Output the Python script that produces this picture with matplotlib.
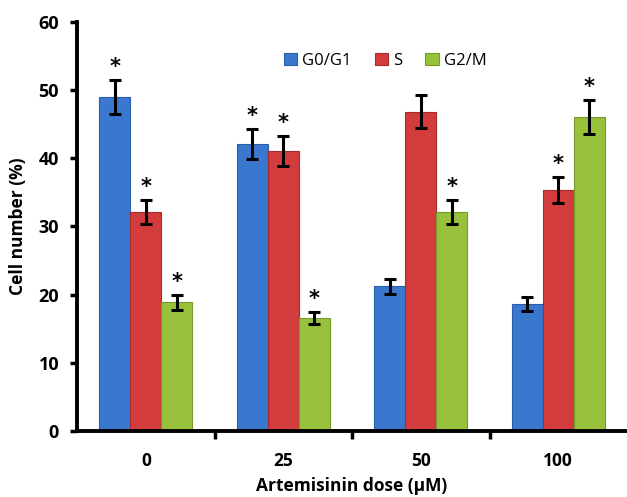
import numpy as np
import matplotlib
matplotlib.use("Agg")
from matplotlib import pyplot as plt

doses = ["0", "25", "50", "100"]
phases = ["G0/G1", "S", "G2/M"]
g0g1 = [49.0, 42.1, 21.2, 18.6]
s_phase = [32.1, 41.1, 46.8, 35.4]
g2m = [18.9, 16.6, 32.1, 46.1]
err_g0g1 = [2.5, 2.2, 1.1, 1.0]
err_s = [1.8, 2.2, 2.4, 1.9]
err_g2m = [1.1, 0.9, 1.8, 2.5]
# significant difference marks (True = star above the bar)
star_g0g1 = [True, True, False, False]
star_s = [True, True, False, True]
star_g2m = [True, True, True, True]

colors = ["#3a78cf", "#d23c3c", "#98c23c"]
edges = ["#2a5ea8", "#a82a2a", "#769a2a"]

plt.rcParams['font.family'] = ['Open Sans', 'DejaVu Sans']

fig = plt.figure(figsize=(6.27, 4.97), dpi=100)
ax = fig.add_axes([0.123, 0.133, 0.877, 0.823])

x = np.arange(len(doses))
w = 0.225
series = [g0g1, s_phase, g2m]
errs = [err_g0g1, err_s, err_g2m]
stars = [star_g0g1, star_s, star_g2m]

for i in range(3):
    pos = x + (i - 1) * w
    ax.bar(pos, series[i], w, color=colors[i], edgecolor=edges[i], linewidth=0.8,
           label=phases[i], zorder=2)
    ax.errorbar(pos, series[i], yerr=errs[i], fmt='none', ecolor='black',
                elinewidth=2.2, capsize=4, capthick=2.2, zorder=3)
    for k in range(len(doses)):
        if stars[i][k]:
            ax.text(pos[k], series[i][k] + errs[i][k] + 0.4, "*", ha='center',
                    va='bottom', fontsize=15, fontweight='bold', family='DejaVu Sans')

ax.set_xlim(-0.5, 3.5)
ax.set_ylim(0, 60)
ax.set_yticks(np.arange(0, 61, 10))
ax.set_yticklabels([str(v) for v in range(0, 61, 10)], fontsize=13, fontweight='bold')

# ticks between groups, labels at group centres
ax.set_xticks([0.5, 1.5, 2.5])
ax.set_xticklabels([])
ax.set_xticks(x, minor=True)
ax.set_xticklabels(doses, minor=True, fontsize=12.5, fontweight='bold')
ax.tick_params(axis='x', which='minor', length=0, pad=15)
ax.tick_params(axis='x', which='major', length=6, width=2.5, direction='out')
ax.tick_params(axis='y', length=5, width=2.5, direction='out', pad=8)

for side in ['top', 'right']:
    ax.spines[side].set_visible(False)
for side in ['left', 'bottom']:
    ax.spines[side].set_linewidth(2.8)

ax.set_ylabel("Cell number (%)", fontsize=12.5, fontweight='bold', labelpad=8)
ax.set_xlabel("Artemisinin dose (µM)", fontsize=12.5, fontweight='bold', labelpad=5)

ax.legend(loc='center', bbox_to_anchor=(0.56, 0.905), ncol=3, frameon=False,
          fontsize=12, handlelength=0.8, handleheight=0.8, handletextpad=0.3,
          columnspacing=1.4)

fig.savefig("out.png", dpi=100)
